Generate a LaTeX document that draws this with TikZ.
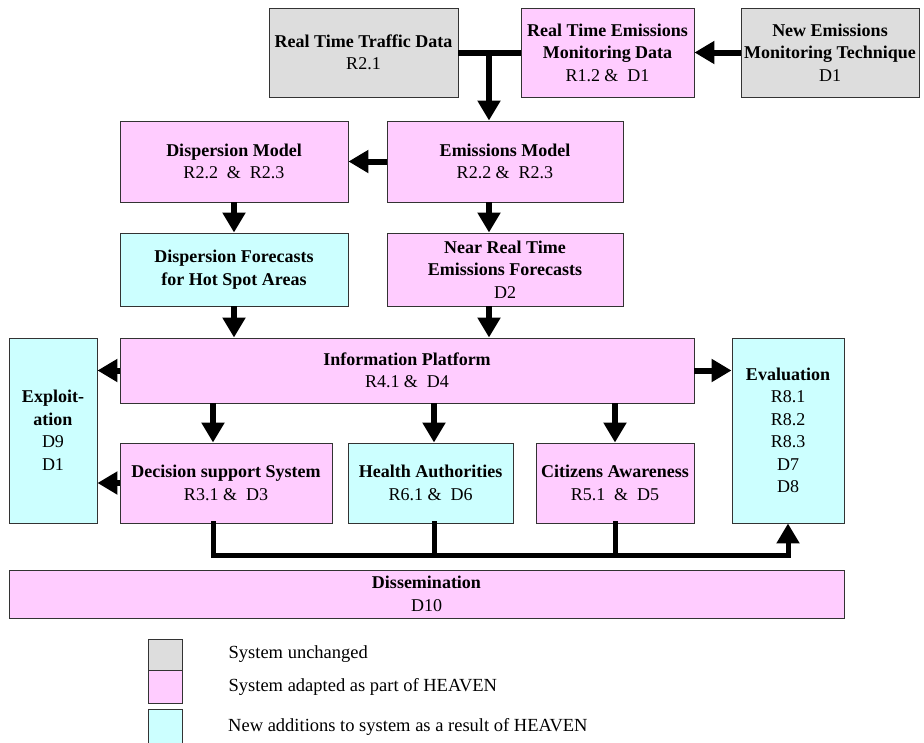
\documentclass[tikz,border=0pt]{standalone}
\usepackage{fontspec}
\setmainfont{Liberation Serif}
\usetikzlibrary{arrows.meta,positioning}
\definecolor{unchanged}{HTML}{DDDDDD}
\definecolor{adapted}{HTML}{FFCCFF}
\definecolor{newadd}{HTML}{CCFFFF}

\begin{document}
\begin{tikzpicture}[x=1pt,y=-1pt,
    blk/.style={draw=black!80, line width=0.9pt, inner sep=1pt, align=center,
      font=\fontsize{18}{22.5}\selectfont},
    grey/.style={blk, fill=unchanged},
    pink/.style={blk, fill=adapted},
    cyan/.style={blk, fill=newadd},
    flow/.style={-{Triangle[width=22pt,length=20pt]}, line width=6pt},
    bus/.style={line width=5pt, line cap=rect},
    keytext/.style={font=\fontsize{18.5}{22.5}\selectfont, inner sep=0pt, anchor=west}]
      \useasboundingbox (0,0) rectangle (924,742);
      % top row
      \node[grey, minimum width=189pt, minimum height=89pt] at (363.5,52.5) (traffic) {\textbf{Real Time Traffic Data}\\R2.1};
      \node[pink, minimum width=173pt, minimum height=89pt] at (607.5,52.5) (rtem) {\textbf{Real Time Emissions}\\\textbf{Monitoring Data}\\R1.2 \&\ \ D1};
      \node[grey, minimum width=178pt, minimum height=89pt] at (830,52.5) (nemt) {\textbf{New Emissions}\\\textbf{Monitoring Technique}\\D1};
      % models
      \node[pink, minimum width=228pt, minimum height=81pt] at (234,161.5) (dmod) {\textbf{Dispersion Model}\\R2.2\ \ \&\ \ R2.3};
      \node[pink, minimum width=236pt, minimum height=81pt] at (505,161.5) (emod) {\textbf{Emissions Model}\\R2.2 \&\ \ R2.3};
      \node[cyan, minimum width=228pt, minimum height=73pt] at (234,269.5) (dfc) {\textbf{Dispersion Forecasts}\\\textbf{for Hot Spot Areas}};
      \node[pink, minimum width=236pt, minimum height=73pt] at (505,269.5) (nrt) {\textbf{Near Real Time}\\\textbf{Emissions Forecasts}\\D2};
      % platform and users
      \node[pink, minimum width=574pt, minimum height=65pt] at (407,370.5) (info) {\textbf{Information Platform}\\R4.1 \&\ \ D4};
      \node[cyan, minimum width=88pt, minimum height=185pt] at (53,430.5) (expl) {\textbf{Exploit-}\\\textbf{ation}\\D9\\D1};
      \node[cyan, minimum width=112pt, minimum height=185pt] at (788,430.5) (eval) {\textbf{Evaluation}\\R8.1\\R8.2\\R8.3\\D7\\D8};
      \node[pink, minimum width=212pt, minimum height=80pt] at (226,483) (dss) {\textbf{Decision support System}\\R3.1 \&\ \ D3};
      \node[cyan, minimum width=165pt, minimum height=80pt] at (430.5,483) (health) {\textbf{Health Authorities}\\R6.1 \&\ \ D6};
      \node[pink, minimum width=158pt, minimum height=80pt] at (615,483) (cit) {\textbf{Citizens Awareness}\\R5.1\ \ \&\ \ D5};
      \node[pink, minimum width=835pt, minimum height=48pt] at (426.5,594) (diss) {\textbf{Dissemination}\\D10};
      % legend
      \node[grey, minimum width=34pt, minimum height=31pt] at (165,654.5) (key1) {};
      \node[pink, minimum width=34pt, minimum height=33pt] at (165,686.5) (key2) {};
      \node[cyan, minimum width=34pt, minimum height=36pt] at (165,727.5) (key3) {};
      \node[keytext, right=46pt of key1] (txt1) {System unchanged};
      \node[keytext, right=46pt of key2] (txt2) {System adapted as part of HEAVEN};
      \node[keytext] at (228,727) (txt3) {New additions to system as a result of HEAVEN};
      % junction and bus points
      \coordinate (junc) at (489,52.5);
      \coordinate (busA) at (213,555);
      \coordinate (busB) at (434,555);
      \coordinate (busC) at (615,555);
      \coordinate (busD) at (788,555);
      % connectors
      \draw[line width=6pt] (traffic.east) -- (rtem.west);
      \draw[flow] (junc) -- (junc |- emod.north);
      \draw[flow] (nemt.west) -- (rtem.east);
      \draw[flow] (emod.west) -- (dmod.east);
      \draw[flow] (dmod.south) -- (dfc.north);
      \draw[flow] (emod.south -| junc) -- (nrt.north -| junc);
      \draw[flow] (dfc.south) -- (dfc.south |- info.north);
      \draw[flow] (nrt.south -| junc) -- (info.north -| junc);
      \draw[flow] (info.west) -- (info.west -| expl.east);
      \draw[flow] (dss.west) -- (dss.west -| expl.east);
      \draw[flow] (info.east) -- (info.east -| eval.west);
      \draw[flow] (info.south -| busA) -- (dss.north -| busA);
      \draw[flow] (info.south -| busB) -- (health.north -| busB);
      \draw[flow] (info.south -| busC) -- (cit.north -| busC);
      \draw[bus] (health.south -| busB) -- (busB);
      \draw[bus] (cit.south -| busC) -- (busC);
      \draw[bus, -{Triangle[width=22pt,length=20pt]}] (dss.south -| busA) -- (busA) -- (busD) -- (busD |- eval.south);
      \end{tikzpicture}
\end{document}
